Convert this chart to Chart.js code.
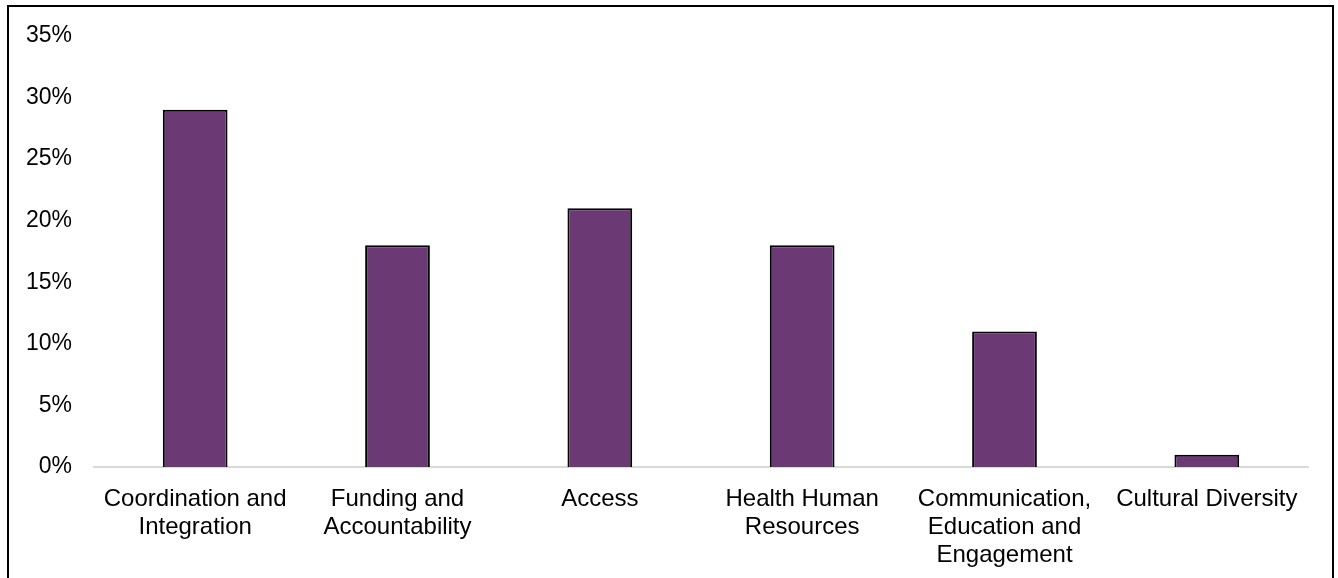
<!DOCTYPE html>
<html>
<head>
<meta charset="utf-8">
<script src="https://cdn.jsdelivr.net/npm/chart.js@4"></script>
<style>
  body { margin: 0; background: #fff; }
  #frame { position: absolute; left: 7px; top: 5px; width: 1327px; height: 620px; border: 2px solid #000; box-sizing: border-box; pointer-events: none; }
  canvas { position: absolute; left: 0; top: 0; }
</style>
</head>
<body>
<canvas id="chart" width="1338" height="578"></canvas>
<div id="frame"></div>
<script>
const categories = [
  ['Coordination and', 'Integration'],
  ['Funding and', 'Accountability'],
  'Access',
  ['Health Human', 'Resources'],
  ['Communication,', 'Education and', 'Engagement'],
  'Cultural Diversity'
];
const shares = [29, 18, 21, 18, 11, 1];
const yTicks = [0, 5, 10, 15, 20, 25, 30, 35];

const ctx = document.getElementById('chart').getContext('2d');
new Chart(ctx, {
  type: 'bar',
  data: {
    labels: categories,
    datasets: [{
      data: shares,
      backgroundColor: '#6b3a75',
      borderColor: '#000',
      borderWidth: 2,
      barPercentage: 0.32,
      categoryPercentage: 1
    }]
  },
  options: {
    responsive: false,
    animation: false,
    layout: { padding: { left: 20, right: 30, top: 31, bottom: 0 } },
    plugins: { legend: { display: false }, tooltip: { enabled: false } },
    scales: {
      x: {
        grid: { display: false },
        border: { display: true, color: '#d9d9d9', width: 2 },
        ticks: {
          color: '#000',
          font: { family: 'Liberation Sans, Arial', size: 24, lineHeight: 1.15 },
          padding: 11,
          maxRotation: 0,
          autoSkip: false
        },
        afterFit: s => { s.height = 111; }
      },
      y: {
        min: 0,
        max: yTicks[yTicks.length - 1],
        afterBuildTicks: s => { s.ticks = yTicks.map(v => ({ value: v })); },
        grid: { display: false, drawTicks: false },
        border: { display: false },
        ticks: {
          color: '#000',
          font: { family: 'Liberation Sans, Arial', size: 23 },
          padding: 22,
          callback: v => v + '%'
        },
        afterFit: s => { s.width = 74; }
      }
    }
  }
});
</script>
</body>
</html>
